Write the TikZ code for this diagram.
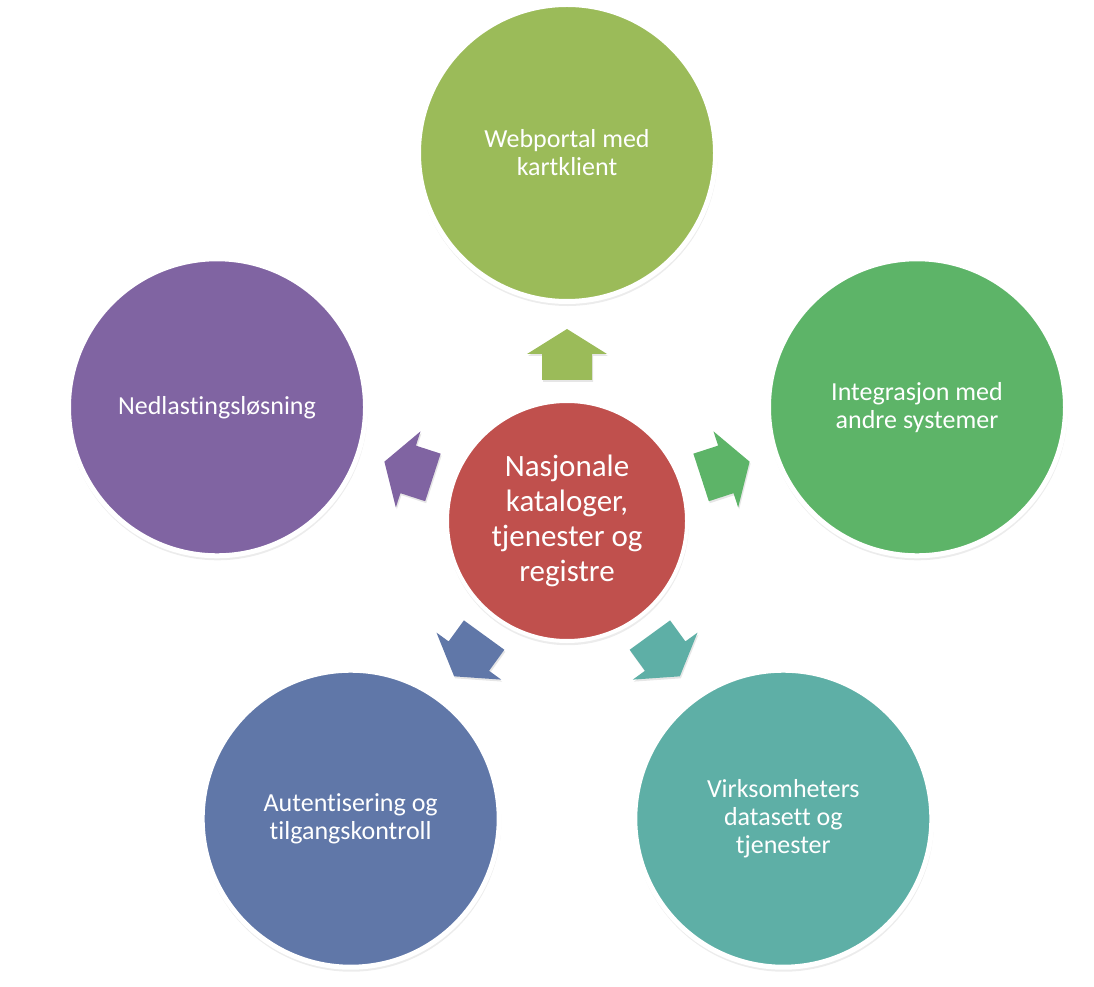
\documentclass[tikz,border=0pt]{standalone}
\usepackage{fontspec}
\setmainfont[Ligatures=NoCommon]{Carlito}
\usetikzlibrary{calc}
\usetikzlibrary{shadows}
\definecolor{katred}{HTML}{C0504D}
\definecolor{webgreen}{HTML}{9BBB59}
\definecolor{intgreen}{HTML}{5DB468}
\definecolor{datateal}{HTML}{5EAFA6}
\definecolor{authblue}{HTML}{6077A8}
\definecolor{nedpurple}{HTML}{8064A2}
\tikzstyle{every node}=[font=\fontsize{26}{28}\selectfont, text=white, align=center]
\tikzstyle{bubble}=[circle, draw=white, line width=5pt, minimum size=297pt, inner sep=0pt,
    drop shadow={opacity=0.15, shadow scale=1.01, shadow xshift=0.5pt, shadow yshift=-3pt}]
\tikzstyle{pointer}=[drop shadow={opacity=0.2, shadow xshift=1pt, shadow yshift=-2pt}]

\begin{document}
\begin{tikzpicture}[x=1pt, y=1pt]
                \useasboundingbox (0, 0) rectangle (1094, 986);

                \node[bubble, fill=katred, line width=4pt, minimum size=240pt, font=\fontsize{31}{35}\selectfont] (N) at (567, 465) {Nasjonale\\kataloger,\\tjenester og\\registre};

                \foreach \ang/\col/\name/\txt in {90/webgreen/W/{Webportal med\\kartklient},
                                                  18/intgreen/I/{Integrasjon med\\andre systemer},
                                                  -54/datateal/V/{Virksomheters\\datasett og\\tjenester},
                                                  -126/authblue/A/{Autentisering og\\tilgangskontroll},
                                                  162/nedpurple/L/{Nedlastingsløsning}}
                {
                    \node[bubble, fill=\col] (\name) at ($(N)+(\ang:368)$) {\txt};
                    \fill[\col, pointer, shift={(N.center)}, rotate=\ang-90] (-25, 141) -- (-25, 167) -- (-40, 167) -- (0, 192) -- (40, 167) -- (25, 167) -- (25, 141) -- cycle;
                }
            \end{tikzpicture}
\end{document}
